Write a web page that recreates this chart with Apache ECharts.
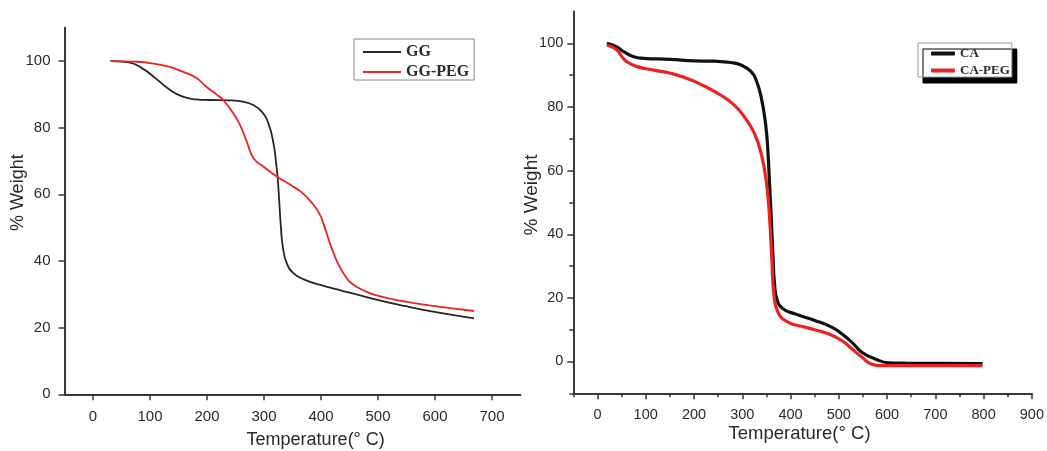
<!DOCTYPE html>
<html>
<head>
<meta charset="utf-8">
<script src="https://cdn.jsdelivr.net/npm/echarts@6/dist/echarts.min.js"></script>
<style>
html,body{margin:0;padding:0;background:#fff;}
#c{width:1047px;height:451px;}
</style>
</head>
<body>
<div id="c"></div>
<script>
// ---- Left chart: GG vs GG-PEG ----
const ggTemp   = [30.8, 62.7, 86.4, 110, 133.7, 157.4, 181, 204, 239.6, 263, 281, 296, 307.7, 316.6, 321.3, 324.3, 326.6, 329.6, 333, 340, 352, 369.8, 399, 428.4, 488, 547, 606.5, 668.6];
const ggWeight = [100, 99.6, 97.8, 94.8, 91.5, 89.3, 88.5, 88.3, 88.2, 87.8, 86.8, 84.8, 81.3, 75.3, 69.3, 64.3, 58.3, 50.3, 44.3, 39.3, 36.3, 34.5, 32.8, 31.5, 28.8, 26.5, 24.5, 22.8];
const ggPegTemp   = [30.8, 74, 103.6, 133, 157.4, 181, 198.8, 216.6, 228.4, 246.2, 258, 269.8, 281.7, 299.4, 323, 346.7, 364.5, 382.2, 397, 406, 417.8, 429.6, 441.4, 453.3, 477, 500.6, 548, 607, 668.6];
const ggPegWeight = [100, 99.8, 99.3, 98.3, 96.8, 95, 92.3, 90, 88.3, 84.3, 80.8, 75.8, 70.8, 68.3, 65.3, 62.8, 60.8, 57.8, 54.3, 50.3, 44.3, 39.3, 35.8, 33.3, 31, 29.5, 27.8, 26.3, 25];

// ---- Right chart: CA vs CA-PEG ----
const caTemp   = [19.5, 40.3, 54.2, 75, 95.9, 151.5, 200, 241.8, 276.6, 297.4, 318.3, 328.7, 339.1, 348.2, 353, 356.5, 360, 363.4, 366.9, 372.5, 384.3, 408.6, 450.3, 485, 505.9, 526.7, 547.6, 575.4, 603, 638, 707.4, 797.8];
const caWeight = [100, 98.9, 97.4, 95.8, 95.3, 95, 94.5, 94.4, 94, 93.2, 91.1, 88.5, 83.2, 74.8, 66.4, 55.9, 45.4, 33.9, 24.4, 19.2, 16.6, 15, 12.9, 10.8, 8.7, 6.1, 2.9, 0.8, -0.4, -0.5, -0.6, -0.7];
const caPegTemp   = [19.5, 40.3, 50.7, 61.2, 82, 116.7, 151.5, 186.2, 221, 255.7, 283.5, 304.4, 325.2, 339.1, 349.5, 356.5, 361.4, 365.5, 373.9, 394.7, 429.5, 478, 505.9, 526.7, 547.6, 568.5, 589.3, 672.7, 797.8];
const caPegWeight = [99.5, 97.9, 95.8, 94.2, 92.7, 91.6, 90.6, 89, 86.6, 83.7, 80.6, 76.9, 71.7, 65.4, 57, 45.4, 31.8, 21.3, 15.5, 12.4, 10.8, 8.7, 6.6, 4, 1.4, -0.9, -1.3, -1.3, -1.3];

// ---- Tick labels ----
const leftXTicks  = [0, 100, 200, 300, 400, 500, 600, 700];
const leftYTicks  = [0, 20, 40, 60, 80, 100];
const rightXTicks = [0, 100, 200, 300, 400, 500, 600, 700, 800, 900];
const rightXMinor = [-50, 50, 150, 250, 350, 450, 550, 650, 750, 850];
const rightYTicks = [0, 20, 40, 60, 80, 100];
const rightYMinor = [-10, 10, 30, 50, 70, 90];

const zip = (a, b) => a.map((v, i) => [v, b[i]]);

const AX = '#3d3631';
const LBL = '#2a2a2a';
const SANS = 'Liberation Sans, Arial, sans-serif';
const SERIF = 'Liberation Serif, Times New Roman, serif';

function mainAxis(gridIndex, min, max, ticks, fs, pos, margin) {
  return {
    type: 'value', gridIndex, min, max, position: pos,
    axisLine: {show: true, onZero: false, lineStyle: {color: AX, width: 2}},
    axisTick: {show: true, inside: false, length: 6, customValues: ticks, lineStyle: {color: AX, width: 1.5}},
    axisLabel: {customValues: ticks, color: LBL, fontSize: fs, fontFamily: SANS, margin: margin},
    splitLine: {show: false}
  };
}
function minorAxis(gridIndex, min, max, ticks, pos) {
  return {
    type: 'value', gridIndex, min, max, position: pos,
    axisLine: {show: false, onZero: false},
    axisTick: {show: true, inside: false, length: 4, customValues: ticks, lineStyle: {color: AX, width: 1.5}},
    axisLabel: {show: false},
    splitLine: {show: false}
  };
}
function lineSeries(name, xi, data, color, width) {
  return {name, type: 'line', xAxisIndex: xi, yAxisIndex: xi, data,
    symbol: 'none', showSymbol: false, smooth: 0.5,
    lineStyle: {color, width}, itemStyle: {color}};
}

const chart = echarts.init(document.getElementById('c'), null, {renderer: 'canvas'});
chart.setOption({
  backgroundColor: '#fff',
  animation: false,
  grid: [
    {left: 64.5, top: 27.7, width: 456, height: 366.6},
    {left: 573.3, top: 11.6, width: 459.7, height: 381.7}
  ],
  xAxis: [
    mainAxis(0, -50, 750, leftXTicks, 15, 'bottom', 15),
    mainAxis(1, -50, 900, rightXTicks, 14.5, 'bottom', 14),
    minorAxis(1, -50, 900, rightXMinor, 'bottom')
  ],
  yAxis: [
    mainAxis(0, 0, 110, leftYTicks, 15, 'left', 14),
    mainAxis(1, -10, 110, rightYTicks, 14.5, 'left', 10),
    minorAxis(1, -10, 110, rightYMinor, 'left')
  ],
  legend: [
    {
      data: ['GG', 'GG-PEG'], left: 354, top: 39, orient: 'vertical',
      icon: 'rect', itemWidth: 38, itemHeight: 2, itemGap: 4,
      padding: [5, 5, 0, 9],
      borderColor: '#8a8a8a', borderWidth: 1, backgroundColor: '#fff',
      textStyle: {fontFamily: SERIF, fontWeight: 'bold', fontSize: 16, color: '#2a2a2a'}
    },
    {
      data: ['CA', 'CA-PEG'], left: 918, top: 43, orient: 'vertical',
      icon: 'roundRect', itemWidth: 24, itemHeight: 4, itemGap: 4,
      padding: [4, 2, 0, 13],
      borderColor: '#9a9a9a', borderWidth: 1, backgroundColor: '#fff',
      shadowColor: '#000', shadowBlur: 0.01, shadowOffsetX: 5, shadowOffsetY: 6,
      textStyle: {fontFamily: SERIF, fontWeight: 'bold', fontSize: 13, color: '#2a2a2a'}
    }
  ],
  series: [
    lineSeries('GG', 0, zip(ggTemp, ggWeight), '#2b2522', 1.8),
    lineSeries('GG-PEG', 0, zip(ggPegTemp, ggPegWeight), '#ee2222', 1.8),
    lineSeries('CA', 1, zip(caTemp, caWeight), '#111111', 3.2),
    lineSeries('CA-PEG', 1, zip(caPegTemp, caPegWeight), '#ee2222', 3.2)
  ],
  graphic: [
    {type: 'text', x: 17.6, y: 192.7, rotation: Math.PI / 2,
     style: {text: '% Weight', fill: LBL, font: '18px ' + SANS, align: 'center', verticalAlign: 'middle'}},
    {type: 'text', x: 315.7, y: 440,
     style: {text: 'Temperature(° C)', fill: LBL, font: '18px ' + SANS, align: 'center', verticalAlign: 'middle'}},
    {type: 'text', x: 531.8, y: 195, rotation: Math.PI / 2,
     style: {text: '% Weight', fill: LBL, font: '19px ' + SANS, align: 'center', verticalAlign: 'middle'}},
    {type: 'text', x: 799.5, y: 433.5,
     style: {text: 'Temperature(° C)', fill: LBL, font: '18.5px ' + SANS, align: 'center', verticalAlign: 'middle'}}
  ]
});
</script>
</body>
</html>
